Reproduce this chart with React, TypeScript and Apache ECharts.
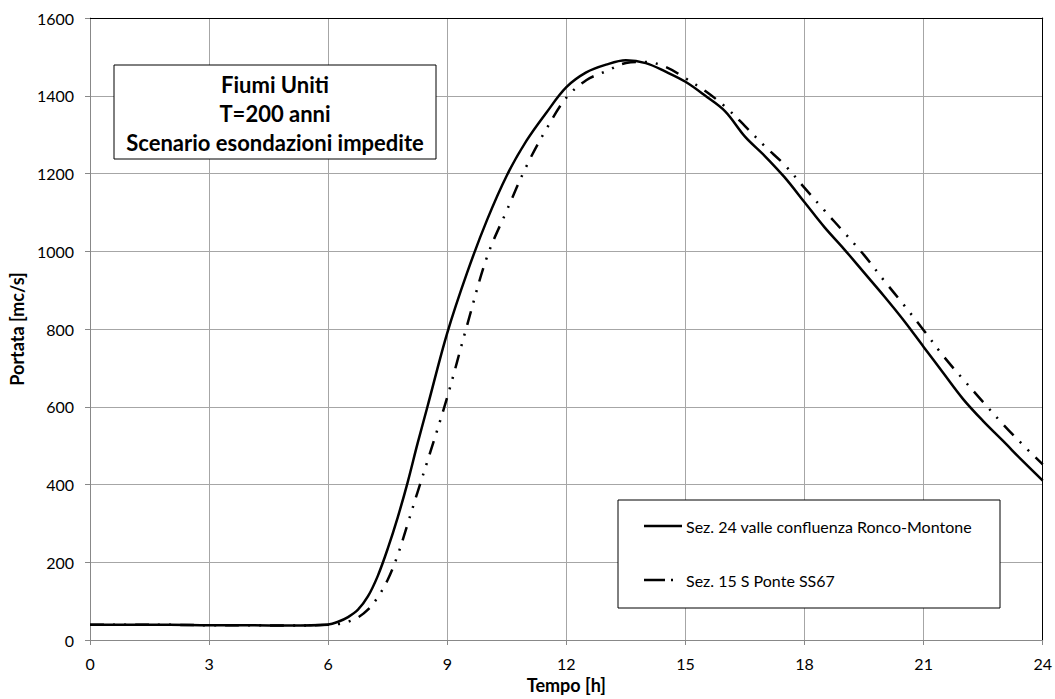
import React, { useEffect, useRef } from "react";
import * as echarts from "echarts";

const tSolid = [0, 1, 2, 3, 4, 5, 6, 6.25, 6.5, 6.75, 7, 7.25, 7.5, 7.75, 8, 8.25, 8.5, 9, 9.5, 10, 10.5, 11, 11.5, 12, 12.5, 13, 13.5, 14, 14.5, 15, 15.5, 16, 16.5, 17, 17.5, 18, 18.5, 19, 19.5, 20, 20.5, 21, 21.5, 22, 22.5, 23, 23.5, 24];
const vSolid = [39, 39, 39, 38, 38, 37, 40, 47, 59, 78, 112, 165, 235, 315, 405, 505, 600, 790, 945, 1080, 1195, 1285, 1357, 1422, 1460, 1480, 1491, 1484, 1462, 1436, 1400, 1360, 1295, 1245, 1190, 1126, 1062, 1005, 945, 885, 822, 754, 686, 619, 563, 512, 460, 410];

const tDash = [0, 1, 2, 3, 4, 5, 6, 6.25, 6.5, 6.75, 7, 7.25, 7.5, 7.75, 8, 8.25, 8.5, 9, 9.5, 10, 10.5, 11, 11.5, 12, 12.5, 13, 13.5, 14, 14.5, 15, 15.5, 16, 16.5, 17, 17.5, 18, 18.5, 19, 19.5, 20, 20.5, 21, 21.5, 22, 22.5, 23, 23.5, 24];
const vDash = [39, 39, 39, 38, 38, 37, 39, 41, 47, 58, 78, 110, 155, 218, 298, 380, 460, 625, 810, 985, 1105, 1220, 1315, 1395, 1440, 1463, 1484, 1487, 1474, 1445, 1412, 1372, 1322, 1270, 1222, 1163, 1105, 1048, 990, 925, 862, 797, 730, 670, 612, 555, 502, 452];

const xTicks = { min: 0, max: 24, interval: 3 };
const yTicks = { min: 0, max: 1600, interval: 200 };

const seriesNames = ["Sez. 24 valle confluenza Ronco-Montone", "Sez. 15 S Ponte SS67"];
const titleLines = ["Fiumi Uniti", "T=200 anni", "Scenario esondazioni impedite"];
const xName = "Tempo [h]";
const yName = "Portata [mc/s]";

const FONT = "Lato, 'Open Sans', sans-serif";
const DASH = [14, 9, 2, 9, 2, 9];

export default function App() {
  const ref = useRef<HTMLDivElement>(null);
  useEffect(() => {
    if (!ref.current) return;
    const chart = echarts.init(ref.current, null, { renderer: "svg" });
    const solidData = tSolid.map((t, i) => [t, vSolid[i]]);
    const dashData = tDash.map((t, i) => [t, vDash[i]]);
    chart.setOption({
      animation: false,
      backgroundColor: "#fff",
      grid: { left: 88, top: 18, right: 12, bottom: 57, containLabel: false },
      xAxis: [
        {
          type: "value",
          min: xTicks.min,
          max: xTicks.max,
          interval: xTicks.interval,
          name: xName,
          nameLocation: "middle",
          nameGap: 36,
          nameTextStyle: { fontFamily: FONT, fontWeight: "bold", fontSize: 18, color: "#000" },
          axisLine: { onZero: false, lineStyle: { color: "#888", width: 1 } },
          axisTick: { show: true, inside: false, length: 5, lineStyle: { color: "#888" } },
          axisLabel: { fontFamily: FONT, fontSize: 16, color: "#000", margin: 15, formatter: (v: number) => String(v) },
          splitLine: { show: true, lineStyle: { color: "#a6a6a6", width: 1 } },
        },
        {
          type: "value",
          position: "top",
          min: xTicks.min,
          max: xTicks.max,
          axisLine: { show: true, onZero: false, lineStyle: { color: "#000", width: 1 } },
          axisTick: { show: false },
          axisLabel: { show: false },
          splitLine: { show: false },
        },
      ],
      yAxis: [
        {
          type: "value",
          min: yTicks.min,
          max: yTicks.max,
          interval: yTicks.interval,
          name: yName,
          nameLocation: "middle",
          nameGap: 60,
          nameRotate: 90,
          nameTextStyle: { fontFamily: FONT, fontWeight: "bold", fontSize: 18, color: "#000" },
          axisLine: { show: true, onZero: false, lineStyle: { color: "#888", width: 1 } },
          axisTick: { show: true, inside: false, length: 5, lineStyle: { color: "#888" } },
          axisLabel: { fontFamily: FONT, fontSize: 16, color: "#000", margin: 16, formatter: (v: number) => String(v) },
          splitLine: { show: true, lineStyle: { color: "#a6a6a6", width: 1 } },
        },
        {
          type: "value",
          position: "right",
          min: yTicks.min,
          max: yTicks.max,
          axisLine: { show: true, onZero: false, lineStyle: { color: "#000", width: 1 } },
          axisTick: { show: false },
          axisLabel: { show: false },
          splitLine: { show: false },
        },
      ],
      series: [
        {
          name: seriesNames[0],
          type: "line",
          xAxisIndex: 0,
          yAxisIndex: 0,
          data: solidData,
          smooth: 0.35,
          showSymbol: false,
          symbol: "none",
          lineStyle: { color: "#000", width: 2.5 },
          z: 3,
        },
        {
          name: seriesNames[1],
          type: "line",
          xAxisIndex: 0,
          yAxisIndex: 0,
          data: dashData,
          smooth: 0.35,
          showSymbol: false,
          symbol: "none",
          lineStyle: { color: "#000", width: 2.5, type: DASH, cap: "butt" },
          z: 2,
        },
      ],
      graphic: [
        {
          type: "rect",
          shape: { x: 114, y: 65, width: 322, height: 94 },
          style: { fill: "#fff", stroke: "#000", lineWidth: 1 },
          z: 10,
        },
        ...titleLines.map((s, i) => ({
          type: "text",
          x: 275,
          y: 84 + i * 29,
          style: {
            text: s,
            fontFamily: FONT,
            fontWeight: "bold",
            fontSize: 22,
            fill: "#000",
            align: "center",
            verticalAlign: "middle",
          },
          z: 11,
        })),
        {
          type: "rect",
          shape: { x: 618, y: 500, width: 382, height: 108 },
          style: { fill: "#fff", stroke: "#000", lineWidth: 1 },
          z: 10,
        },
        {
          type: "line",
          shape: { x1: 644, y1: 526, x2: 682, y2: 526 },
          style: { stroke: "#000", lineWidth: 2.5 },
          z: 11,
        },
        {
          type: "line",
          shape: { x1: 644, y1: 580, x2: 682, y2: 580 },
          style: { stroke: "#000", lineWidth: 2.5, lineDash: [21, 6, 2, 20] },
          z: 11,
        },
        ...seriesNames.map((s, i) => ({
          type: "text",
          x: 686,
          y: i === 0 ? 526 : 580,
          style: {
            text: s,
            fontFamily: FONT,
            fontSize: 16,
            fill: "#000",
            align: "left",
            verticalAlign: "middle",
          },
          z: 11,
        })),
      ],
    });
    return () => chart.dispose();
  }, []);
  return <div ref={ref} style={{ width: 1055, height: 699, position: "absolute", left: 0, top: 0 }} />;
}
